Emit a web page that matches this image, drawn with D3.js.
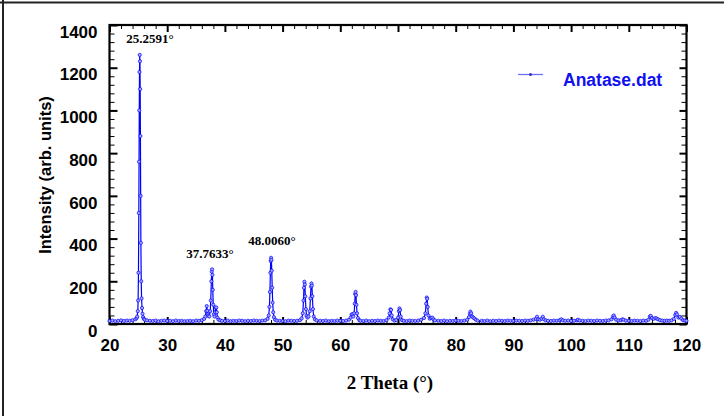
<!DOCTYPE html>
<html>
<head>
<meta charset="utf-8">
<script src="https://cdn.jsdelivr.net/npm/d3@7"></script>
<style>
  html, body { margin: 0; padding: 0; background: #fff; }
  svg { display: block; }
</style>
</head>
<body>
<svg id="chart" width="724" height="416"></svg>
<script>
// XRD scan of anatase: [2θ (deg), intensity (arb. units)]
const pattern = [
  [20,14],[20.5,16],[21,13],[21.5,15],[22,17],[22.5,14],[23,16],[23.5,15],[24,18],[24.5,22],
  [24.7,28],[24.8,35],[24.9,60],[24.96,110],[25.02,240],[25.08,520],[25.12,760],[25.16,1000],
  [25.2,1180],[25.24,1260],[25.28,1230],[25.32,1100],[25.36,880],[25.4,600],[25.44,380],
  [25.5,200],[25.56,120],[25.64,75],[25.72,48],[25.82,32],[25.95,24],[26.1,20],
  [26.5,17],[27,15],[27.5,14],[28,16],[28.5,13],[29,15],[29.5,16],[30,14],[30.5,15],[31,13],
  [31.5,16],[32,14],[32.5,15],[33,13],[33.5,14],[34,15],[34.5,13],[35,16],[35.5,15],[36,18],
  [36.4,24],[36.6,35],[36.75,60],[36.85,84],[36.95,62],[37.05,45],[37.15,38],[37.3,35],
  [37.45,60],[37.55,110],[37.65,200],[37.72,245],[37.78,256],[37.84,230],[37.9,160],[37.98,90],
  [38.08,45],[38.2,35],[38.3,55],[38.42,76],[38.5,78],[38.6,55],[38.72,30],[38.9,20],[39.2,17],
  [39.5,15],[40,14],[40.5,16],[41,13],[41.5,15],[42,14],[42.5,16],[43,15],[43.5,13],[44,15],
  [44.5,14],[45,16],[45.5,15],[46,14],[46.5,16],[47,17],[47.4,24],
  [47.6,40],[47.72,80],[47.8,150],[47.88,240],[47.94,295],[48.0,310],[48.06,300],[48.12,250],
  [48.2,170],[48.28,100],[48.38,55],[48.5,32],[48.7,20],[49,16],
  [49.5,15],[50,14],[50.5,13],[51,16],[51.5,15],[52,14],[52.5,15],[53,18],[53.3,26],
  [53.5,50],[53.62,110],[53.7,170],[53.78,198],[53.86,185],[53.94,130],[54.04,70],[54.15,38],
  [54.3,30],[54.5,35],[54.7,60],[54.82,120],[54.92,175],[55.0,190],[55.08,180],[55.16,130],
  [55.26,70],[55.4,35],[55.6,22],[55.9,17],
  [56.5,15],[57,14],[57.5,16],[58,13],[58.5,15],[59,14],[59.5,16],[60,15],[60.5,14],[61,16],
  [61.5,20],[61.8,30],[61.95,44],[62.1,46],[62.25,35],[62.4,50],[62.5,95],[62.58,140],
  [62.65,150],[62.72,135],[62.8,90],[62.9,50],[63.05,28],[63.3,18],
  [63.5,15],[64,14],[64.5,16],[65,13],[65.5,15],[66,14],[66.5,16],[67,15],[67.5,14],[68,18],
  [68.4,30],[68.55,50],[68.68,69],[68.8,66],[68.92,40],[69.1,22],[69.4,16],[69.7,18],
  [70,30],[70.15,60],[70.25,73],[70.35,65],[70.48,35],[70.7,18],
  [71,15],[71.5,14],[72,16],[72.5,15],[73,14],[73.5,16],[74,20],[74.5,28],
  [74.75,50],[74.88,95],[74.98,124],[75.06,118],[75.15,80],[75.28,40],[75.5,25],[75.75,28],
  [75.95,30],[76.15,22],[76.4,17],
  [77,15],[77.5,14],[78,16],[78.5,13],[79,15],[79.5,14],[80,16],[80.5,15],[81,14],[81.5,16],
  [82,20],[82.3,32],[82.45,48],[82.55,58],[82.68,50],[82.85,35],[83.05,30],[83.25,26],
  [83.5,20],[83.8,16],
  [84.5,15],[85,14],[85.5,16],[86,13],[86.5,15],[87,14],[87.5,16],[88,15],[88.5,14],[89,16],
  [89.5,15],[90,14],[90.5,16],[91,15],[91.5,14],[92,16],[92.5,15],[93,17],[93.5,20],
  [93.9,24],[94.1,34],[94.3,22],[94.6,20],[94.9,25],[95.1,34],[95.3,22],[95.6,17],
  [96,15],[96.5,14],[97,16],[97.5,15],[98,18],[98.3,22],[98.6,17],[99,15],[99.5,16],[100,14],
  [100.5,15],[101,17],[101.2,20],[101.5,16],[102,15],[102.5,14],[103,16],[103.5,15],[104,14],
  [104.5,16],[105,15],[105.5,14],[106,16],[106.5,17],[107,22],[107.25,34],[107.4,40],
  [107.55,30],[107.8,20],[108.2,17],[108.6,18],[108.9,22],[109.1,20],[109.5,16],[110,15],
  [110.5,14],[111,16],[111.5,15],[112,14],[112.5,16],[113,15],[113.4,20],[113.65,35],
  [113.8,38],[114.0,28],[114.3,24],[114.6,28],[114.85,25],[115.1,22],[115.4,18],[115.8,16],
  [116.2,15],[116.6,16],[117,15],[117.4,17],[117.8,24],[118.05,42],[118.2,52],[118.35,45],
  [118.6,30],[118.85,33],[119.1,25],[119.4,18],[119.7,16],[120,15]
];

// Labelled reflections: [2θ label position, intensity label position, text]
const peakLabels = [
  [27.0, 1315, "25.2591°"],
  [37.4, 310, "37.7633°"],
  [48.15, 370, "48.0060°"]
];

const xMajor = [20, 30, 40, 50, 60, 70, 80, 90, 100, 110, 120];
const xMinor = d3.range(20, 120.001, 2).filter(v => v % 10 !== 0);
const yMajor = [0, 200, 400, 600, 800, 1000, 1200, 1400];
const yMinor = d3.range(0, 1400.001, 40).filter(v => v % 200 !== 0);

const seriesName = "Anatase.dat";
const xTitle = "2 Theta (°)";
const yTitle = "Intensity (arb. units)";

const plot = { left: 109.5, right: 686.5, top: 25, bottom: 324 };
const blue = "#0000ff";

const svg = d3.select("#chart");

// page border (top and left edges)
svg.append("line").attr("x1", 0).attr("x2", 724).attr("y1", 2.5).attr("y2", 2.5)
  .attr("stroke", "#222").attr("stroke-width", 2);
svg.append("line").attr("x1", 3).attr("x2", 3).attr("y1", 0).attr("y2", 416)
  .attr("stroke", "#222").attr("stroke-width", 2);

const x = d3.scaleLinear().domain([20, 120]).range([plot.left, plot.right]);
const y = d3.scaleLinear().domain([0, 1400]).range([plot.bottom, plot.top]);

function styleAxis(g) {
  g.select(".domain").remove();
  g.selectAll(".tick line").attr("stroke", "#000");
}

// bottom axis with labels
svg.append("g").attr("transform", `translate(0,${plot.bottom})`)
  .call(d3.axisBottom(x).tickValues(xMajor).tickSize(-7).tickPadding(15).tickFormat(d3.format("d")))
  .call(styleAxis)
  .call(g => g.selectAll(".tick line").attr("stroke-width", 2))
  .call(g => g.selectAll("text").attr("font-family", "Liberation Sans, Arial, sans-serif")
    .attr("font-weight", "bold").attr("font-size", 17).attr("fill", "#000"));
svg.append("g").attr("transform", `translate(0,${plot.bottom})`)
  .call(d3.axisBottom(x).tickValues(xMinor).tickSize(-4).tickFormat(""))
  .call(styleAxis);

// top axis
svg.append("g").attr("transform", `translate(0,${plot.top})`)
  .call(d3.axisTop(x).tickValues(xMajor).tickSize(-7).tickFormat(""))
  .call(styleAxis).call(g => g.selectAll(".tick line").attr("stroke-width", 2));
svg.append("g").attr("transform", `translate(0,${plot.top})`)
  .call(d3.axisTop(x).tickValues(xMinor).tickSize(-4).tickFormat(""))
  .call(styleAxis);

// left axis with labels
svg.append("g").attr("transform", `translate(${plot.left},0)`)
  .call(d3.axisLeft(y).tickValues(yMajor).tickSize(-8).tickPadding(12).tickFormat(d3.format("d")))
  .call(styleAxis)
  .call(g => g.selectAll(".tick line").attr("stroke-width", 2))
  .call(g => g.selectAll("text").attr("dy", "0.72em")
    .attr("font-family", "Liberation Sans, Arial, sans-serif")
    .attr("font-weight", "bold").attr("font-size", 17).attr("fill", "#000"));
svg.append("g").attr("transform", `translate(${plot.left},0)`)
  .call(d3.axisLeft(y).tickValues(yMinor).tickSize(-5).tickFormat(""))
  .call(styleAxis);

// right axis
svg.append("g").attr("transform", `translate(${plot.right},0)`)
  .call(d3.axisRight(y).tickValues(yMajor).tickSize(-7).tickFormat(""))
  .call(styleAxis).call(g => g.selectAll(".tick line").attr("stroke-width", 2));
svg.append("g").attr("transform", `translate(${plot.right},0)`)
  .call(d3.axisRight(y).tickValues(yMinor).tickSize(-5).tickFormat(""))
  .call(styleAxis);

// plot frame
svg.append("rect")
  .attr("x", plot.left).attr("y", plot.top)
  .attr("width", plot.right - plot.left).attr("height", plot.bottom - plot.top)
  .attr("fill", "none").attr("stroke", "#000").attr("stroke-width", 2.2);

// diffraction pattern
const line = d3.line().x(d => x(d[0])).y(d => y(d[1]));
svg.append("path").datum(pattern)
  .attr("d", line).attr("fill", "none")
  .attr("stroke", blue).attr("stroke-width", 1.2).attr("stroke-linejoin", "round");

svg.append("g").selectAll("circle").data(pattern).join("circle")
  .attr("cx", d => x(d[0])).attr("cy", d => y(d[1])).attr("r", 1.6)
  .attr("fill", "#a8a8ff").attr("stroke", blue).attr("stroke-width", 0.7);

// peak annotations
svg.append("g").selectAll("text").data(peakLabels).join("text")
  .attr("x", d => x(d[0])).attr("y", d => y(d[1]))
  .attr("text-anchor", "middle")
  .attr("font-family", "Liberation Serif, Times New Roman, serif")
  .attr("font-weight", "bold").attr("font-size", 13).attr("fill", "#000")
  .text(d => d[2]);

// legend
svg.append("line").attr("x1", 518).attr("x2", 543).attr("y1", 74.5).attr("y2", 74.5)
  .attr("stroke", "#6f6fff").attr("stroke-width", 1.3);
svg.append("circle").attr("cx", 530.5).attr("cy", 74.5).attr("r", 1.5)
  .attr("fill", "#3030c0");
svg.append("text").attr("x", 563).attr("y", 86)
  .attr("font-family", "Liberation Sans, Arial, sans-serif")
  .attr("font-weight", "bold").attr("font-size", 17.5).attr("fill", "#1010f0")
  .text(seriesName);

// axis titles
svg.append("text").attr("x", (plot.left + plot.right) / 2 - 8).attr("y", 389)
  .attr("text-anchor", "middle")
  .attr("font-family", "Liberation Serif, Times New Roman, serif")
  .attr("font-weight", "bold").attr("font-size", 19).attr("fill", "#000")
  .text(xTitle);
svg.append("text")
  .attr("transform", "translate(51,175) rotate(-90)")
  .attr("text-anchor", "middle")
  .attr("font-family", "Liberation Sans, Arial, sans-serif")
  .attr("font-weight", "bold").attr("font-size", 16.5).attr("fill", "#000")
  .text(yTitle);
</script>
</body>
</html>
